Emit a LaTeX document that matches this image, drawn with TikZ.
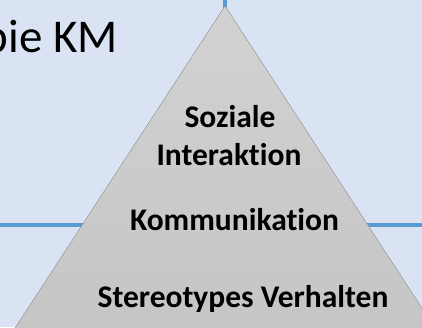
\documentclass[tikz,border=0pt]{standalone}
\usepackage{fontspec}
\setmainfont[Ligatures=NoCommon]{Carlito}
\usetikzlibrary{positioning}
\definecolor{slidebg}{RGB}{218,227,243}
\definecolor{lineblue}{RGB}{91,155,213}
\definecolor{pyredge}{RGB}{165,165,165}
\definecolor{pyrtop}{RGB}{210,210,210}
\definecolor{pyrbot}{RGB}{197,197,197}

\begin{document}
\begin{tikzpicture}[
  x=1pt, y=-1pt,
  level/.style={font=\fontsize{31.5}{38}\selectfont\bfseries, inner sep=0pt, anchor=base},
  title/.style={font=\fontsize{47}{54}\selectfont, inner sep=0pt, anchor=base east},
  axis/.style={draw=lineblue, line width=4.5pt}
]
\useasboundingbox (0,0) rectangle (422,327);
\fill[slidebg] (0,0) rectangle (422,327);
\clip (0,0) rectangle (422,327);

% Achsen
\coordinate (top) at (225,0);
\coordinate (mid) at (225,225);
\coordinate (west) at (0,225);
\coordinate (east) at (422,225);
\draw[axis] (top) -- (mid);
\draw[axis] (west) -- (east);

% Pyramide
\coordinate (apex) at (225,6);
\coordinate (bl) at (10.5,335);
\coordinate (br) at (439.5,335);
\filldraw[draw=pyredge, top color=pyrtop, bottom color=pyrbot] (apex) -- (bl) -- (br) -- cycle;

% Titel
\node[title] (ttl) at (118,52) {bie KM};

% Stufen
\node[level] (soz) at (230,127) {Soziale};
\node[level] (inter) at (229,165) {Interaktion};
\node[level] (komm) at (234.5,230) {Kommunikation};
\node[level] (stereo) at (243,307) {Stereotypes Verhalten};

\end{tikzpicture}
\end{document}
